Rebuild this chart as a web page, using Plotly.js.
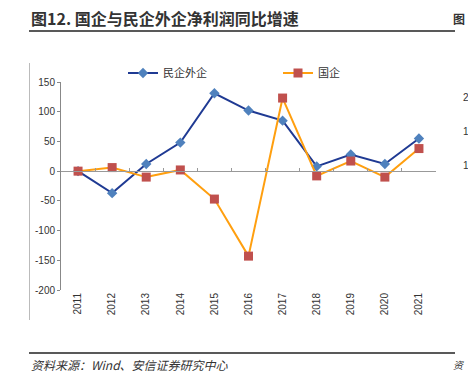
<!DOCTYPE html>
<html>
<head>
<meta charset="utf-8">
<script src="https://cdn.plot.ly/plotly-3.0.1.min.js"></script>
<style>html,body{margin:0;padding:0;background:#fff;}#chart{width:468px;height:381px;}</style>
</head>
<body>
<div id="chart"></div>
<script>
const years = ['2011','2012','2013','2014','2015','2016','2017','2018','2019','2020','2021'];
const privateForeign = [0, -37, 12, 48, 131, 102, 85, 8, 28, 12, 55];
const stateOwned = [0, 6, -10, 2, -47, -143, 123, -8, 17, -10, 38];
const yTickVals = [-200, -150, -100, -50, 0, 50, 100, 150];
const yTickText = ['-200', '-150', '-100', '-50', '0', '50', '100', '150'];
const seriesNames = ['民企外企', '国企'];
const titleText = '图12. 国企与民企外企净利润同比增速';
const sourceText = '资料来源：Wind、安信证券研究中心';

const W = 468, H = 381;
const L = 61, R = 32, T = 82, B = 91;
const pw = W - L - R, ph = H - T - B;
const px = x => (x - L) / pw;
const py = y => (H - B - y) / ph;

const baseFont = 'Liberation Sans, Arial, Noto Sans CJK SC, sans-serif';
const cjkFont = 'Noto Sans CJK SC, Liberation Sans, sans-serif';

const traces = [
  {
    x: years, y: privateForeign, name: seriesNames[0], type: 'scatter', mode: 'lines+markers',
    xaxis: 'x', yaxis: 'y',
    line: {color: '#1F3A93', width: 2},
    marker: {symbol: 'diamond', size: 8, color: '#4F81BD'}
  },
  {
    x: years, y: stateOwned, name: seriesNames[1], type: 'scatter', mode: 'lines+markers',
    xaxis: 'x2', yaxis: 'y',
    line: {color: '#FF9F0F', width: 2},
    marker: {symbol: 'square', size: 9, color: '#C0504D'}
  }
];

const layout = {
  width: W, height: H,
  margin: {l: L, r: R, t: T, b: B},
  paper_bgcolor: '#fff', plot_bgcolor: '#fff',
  font: {family: baseFont, size: 10, color: '#333'},
  showlegend: true,
  legend: {
    orientation: 'h', x: px(123), xanchor: 'left', y: py(73), yanchor: 'middle',
    font: {family: cjkFont, size: 11, color: '#333'},
    entrywidth: 110, entrywidthmode: 'pixels', itemwidth: 30,
    bgcolor: 'rgba(0,0,0,0)'
  },
  xaxis: {
    type: 'category', range: [-0.5, 10.5], showline: false, showgrid: false, zeroline: false,
    ticks: '', tickangle: -90, tickfont: {size: 10, color: '#333'}, fixedrange: true
  },
  xaxis2: {
    type: 'category', range: [-0.5, 10.5], overlaying: 'x', anchor: 'free',
    position: 200 / 350, showline: true, linecolor: '#999', linewidth: 1,
    showticklabels: false, ticks: 'inside', ticklen: 3, tickcolor: '#999',
    tickson: 'boundaries', showgrid: false, zeroline: false
  },
  yaxis: {
    range: [-200, 150], tickvals: yTickVals, ticktext: yTickText,
    showline: true, linecolor: '#888', linewidth: 1, ticks: 'outside', ticklen: 3, tickcolor: '#888',
    showgrid: false, zeroline: false, tickfont: {size: 10, color: '#333'}
  },
  shapes: [
    {type: 'line', xref: 'paper', yref: 'paper', x0: px(29), x1: px(455), y0: py(31), y1: py(31), line: {color: '#222', width: 1.5}},
    {type: 'line', xref: 'paper', yref: 'paper', x0: px(29), x1: px(455), y0: py(353), y1: py(353), line: {color: '#222', width: 1.5}},
    {type: 'line', xref: 'paper', yref: 'paper', x0: px(29.5), x1: px(29.5), y0: py(63), y1: py(320), line: {color: '#bbb', width: 1}}
  ],
  annotations: [
    {text: '<b>' + titleText + '</b>', xref: 'paper', yref: 'paper', x: px(29), y: py(18), xanchor: 'left', yanchor: 'middle', showarrow: false, font: {family: cjkFont, size: 16, color: '#333'}},
    {text: '<i>' + sourceText + '</i>', xref: 'paper', yref: 'paper', x: px(29), y: py(364), xanchor: 'left', yanchor: 'middle', showarrow: false, font: {family: cjkFont, size: 12, color: '#333'}},
    {text: '<b>图</b>', xref: 'paper', yref: 'paper', x: px(467), y: py(18), xanchor: 'right', yanchor: 'middle', showarrow: false, font: {family: cjkFont, size: 12, color: '#333'}},
    {text: '<i>资</i>', xref: 'paper', yref: 'paper', x: px(467), y: py(364), xanchor: 'right', yanchor: 'middle', showarrow: false, font: {family: cjkFont, size: 10, color: '#333'}},
    {text: '2', xref: 'paper', yref: 'paper', x: px(461), y: py(98), xanchor: 'left', yanchor: 'middle', showarrow: false, font: {size: 10, color: '#333'}},
    {text: '1', xref: 'paper', yref: 'paper', x: px(461), y: py(131), xanchor: 'left', yanchor: 'middle', showarrow: false, font: {size: 10, color: '#333'}},
    {text: '1', xref: 'paper', yref: 'paper', x: px(461), y: py(165), xanchor: 'left', yanchor: 'middle', showarrow: false, font: {size: 10, color: '#333'}}
  ]
};

Plotly.newPlot('chart', traces, layout, {displayModeBar: false, staticPlot: true});
</script>
</body>
</html>
